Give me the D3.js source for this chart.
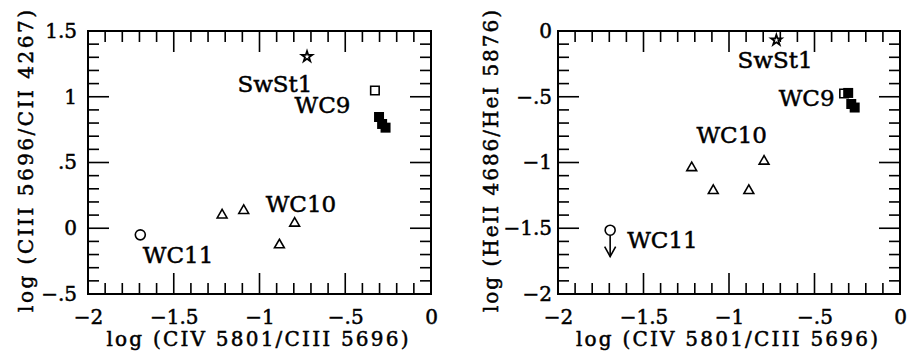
<!DOCTYPE html>
<html>
<head>
<meta charset="utf-8">
<script src="https://cdn.jsdelivr.net/npm/d3@7"></script>
<style>
body { margin: 0; background: #fff; }
text { font-family: 'DejaVu Serif', serif; fill: #000; stroke: #000; stroke-width: 0.5px; }
</style>
</head>
<body>
<div id="chart"></div>
<script>
// tick labels
var xTickVals = [-2, -1.5, -1, -0.5, 0];
var xTickLabels = ['\u22122', '\u22121.5', '\u22121', '\u2212.5', '0'];
var leftYTickVals = [-0.5, 0, 0.5, 1, 1.5];
var leftYTickLabels = ['\u2212.5', '0', '.5', '1', '1.5'];
var rightYTickVals = [-2, -1.5, -1, -0.5, 0];
var rightYTickLabels = ['\u22122', '\u22121.5', '\u22121', '\u2212.5', '0'];

// log (CIV 5801/CIII 5696) for each star, shared by both panels
var wc11X = [-1.695];
var wc10X = [-1.218, -1.092, -0.884, -0.795];
var wc9OpenX = [-0.327];
var wc9X = [-0.303, -0.285, -0.265];
var swst1X = [-0.723];

// left panel: log (CIII 5696/CII 4267)
var wc11C = [-0.05];
var wc10C = [0.10, 0.134, -0.127, 0.038];
var wc9OpenC = [1.048];
var wc9C = [0.846, 0.793, 0.765];
var swst1C = [1.305];

// right panel: log (HeII 4686/HeI 5876), WC11 is an upper limit
var wc11He = [-1.515];
var wc11HeArrow = 0.2;
var wc10He = [-1.04, -1.214, -1.214, -0.991];
var wc9OpenHe = [-0.475];
var wc9He = [-0.471, -0.555, -0.582];
var swst1He = [-0.07];

// class labels [text, x, y] in data units
var leftLabels = [['SwSt1', -0.91, 1.038], ['WC9', -0.633, 0.874], ['WC10', -0.758, 0.126], ['WC11', -1.475, -0.267]];
var rightLabels = [['SwSt1', -0.731, -0.284], ['WC9', -0.546, -0.57], ['WC10', -0.984, -0.854], ['WC11', -1.389, -1.652]];

var svg = d3.select('#chart').append('svg')
	.attr('width', 910)
	.attr('height', 352);

function steps(a, b, step) {
	var out = [];
	for (var i = 0; a + i * step <= b + 1e-9; i++) out.push(+(a + i * step).toFixed(2));
	return out;
}
// major tick every .5, minor every .1
function tickLen(v) { return (Math.round(Math.abs(v) * 10) % 5 === 0) ? 21 : 11; }

function drawPanel(p) {
	var x = d3.scaleLinear().domain([-2, 0]).range([p.x0, p.x1]);
	var y = d3.scaleLinear().domain(p.yDomain).range([294, 31]);
	var g = svg.append('g');
	var xMinor = steps(-2, 0, 0.1), yMinor = steps(p.yDomain[0], p.yDomain[1], 0.1);
	var yTop = y(p.yDomain[1]), yBot = y(p.yDomain[0]);

	// tick labels
	g.append('g').attr('transform', 'translate(0,' + yBot + ')')
		.call(d3.axisBottom(x).tickValues(xTickVals).tickSize(0).tickPadding(16)
			.tickFormat(function(d, i) { return xTickLabels[i]; }))
		.call(function(s) { s.select('.domain').remove(); })
		.selectAll('text').style('font-size', '20px').attr('fill', '#000');
	g.append('g').attr('transform', 'translate(' + p.x0 + ',0)')
		.call(d3.axisLeft(y).tickValues(p.yTickVals).tickSize(0).tickPadding(p.yPad)
			.tickFormat(function(d, i) { return p.yTickLabels[i]; }))
		.call(function(s) { s.select('.domain').remove(); })
		.selectAll('text').style('font-size', '20px').attr('fill', '#000');

	// axis titles
	g.append('text')
		.attr('x', (p.x0 + p.x1) / 2 - 2).attr('y', 346)
		.attr('text-anchor', 'middle')
		.attr('textLength', 302).attr('lengthAdjust', 'spacing')
		.style('font-size', '20px')
		.text('log (CIV 5801/CIII 5696)');
	g.append('text')
		.attr('transform', 'translate(' + p.titleX + ',161) rotate(-90)')
		.attr('text-anchor', 'middle')
		.attr('textLength', 302).attr('lengthAdjust', 'spacing')
		.style('font-size', '20px')
		.text(p.yTitle);

	var pts = g.append('g').attr('fill', 'none').attr('stroke', '#000').attr('stroke-width', 1.6);

	// WC10 triangles
	pts.selectAll(null).data(wc10X).enter().append('path')
		.attr('d', d3.symbol(d3.symbolTriangle, 42))
		.attr('transform', function(d, i) { return 'translate(' + x(d) + ',' + y(p.wc10[i]) + ')'; });

	// WC11 circle
	pts.selectAll(null).data(wc11X).enter().append('circle')
		.attr('cx', function(d) { return x(d); })
		.attr('cy', function(d, i) { return y(p.wc11[i]); })
		.attr('r', 5);
	if (p.upperLimit) {
		wc11X.forEach(function(d, i) {
			var cx = x(d), y0 = y(p.wc11[i]) + 5, tip = y(p.wc11[i] - wc11HeArrow);
			pts.append('line').attr('x1', cx).attr('x2', cx).attr('y1', y0).attr('y2', tip);
			pts.append('path').attr('d', 'M' + (cx - 5.5) + ',' + (tip - 10) + 'L' + cx + ',' + tip + 'L' + (cx + 5.5) + ',' + (tip - 10));
		});
	}

	// WC9 open square
	pts.selectAll(null).data(wc9OpenX).enter().append('path')
		.attr('d', d3.symbol(d3.symbolSquare, 72))
		.attr('transform', function(d, i) { return 'translate(' + x(d) + ',' + y(p.wc9Open[i]) + ')'; });

	// WC9 filled squares
	g.append('g').selectAll(null).data(wc9X).enter().append('path')
		.attr('d', d3.symbol(d3.symbolSquare, 100))
		.attr('fill', '#000')
		.attr('transform', function(d, i) { return 'translate(' + x(d) + ',' + y(p.wc9[i]) + ')'; });

	// SwSt1 star
	pts.selectAll(null).data(swst1X).enter().append('path')
		.attr('d', d3.symbol(d3.symbolStar, 34))
		.attr('stroke-width', 1.8)
		.attr('transform', function(d, i) { return 'translate(' + x(d) + ',' + y(p.swst1[i]) + ')'; });

	g.selectAll(null).data(p.labels).enter().append('text')
		.attr('x', function(d) { return x(d[1]); })
		.attr('y', function(d) { return y(d[2]); })
		.attr('text-anchor', 'middle')
		.style('font-size', '23px')
		.text(function(d) { return d[0]; });

	// inward ticks on all four sides, drawn as thin filled bars
	var tk = svg.append('g').attr('fill', '#000');
	tk.selectAll(null).data(xMinor).enter().append('rect')
		.attr('x', function(d) { return x(d) - 0.8; })
		.attr('y', function(d) { return yBot - tickLen(d); })
		.attr('width', 1.6)
		.attr('height', function(d) { return tickLen(d); });
	tk.selectAll(null).data(xMinor).enter().append('rect')
		.attr('x', function(d) { return x(d) - 0.8; })
		.attr('y', yTop)
		.attr('width', 1.6)
		.attr('height', function(d) { return tickLen(d); });
	tk.selectAll(null).data(yMinor).enter().append('rect')
		.attr('x', p.x0)
		.attr('y', function(d) { return y(d) - 0.8; })
		.attr('width', function(d) { return tickLen(d); })
		.attr('height', 1.6);
	tk.selectAll(null).data(yMinor).enter().append('rect')
		.attr('x', function(d) { return p.x1 - tickLen(d); })
		.attr('y', function(d) { return y(d) - 0.8; })
		.attr('width', function(d) { return tickLen(d); })
		.attr('height', 1.6);

	svg.append('rect')
		.attr('x', p.x0).attr('y', yTop)
		.attr('width', p.x1 - p.x0).attr('height', yBot - yTop)
		.attr('fill', 'none').attr('stroke', '#000').attr('stroke-width', 2);
}

drawPanel({
	x0: 88, x1: 431, yDomain: [-0.5, 1.5],
	yTickVals: leftYTickVals, yTickLabels: leftYTickLabels, yPad: 11,
	titleX: 33, yTitle: 'log (CIII 5696/CII 4267)',
	wc11: wc11C, wc10: wc10C, wc9Open: wc9OpenC, wc9: wc9C, swst1: swst1C,
	labels: leftLabels, upperLimit: false
});
drawPanel({
	x0: 558, x1: 900, yDomain: [-2, 0],
	yTickVals: rightYTickVals, yTickLabels: rightYTickLabels, yPad: 6,
	titleX: 498, yTitle: 'log (HeII 4686/HeI 5876)',
	wc11: wc11He, wc10: wc10He, wc9Open: wc9OpenHe, wc9: wc9He, swst1: swst1He,
	labels: rightLabels, upperLimit: true
});
</script>
</body>
</html>
